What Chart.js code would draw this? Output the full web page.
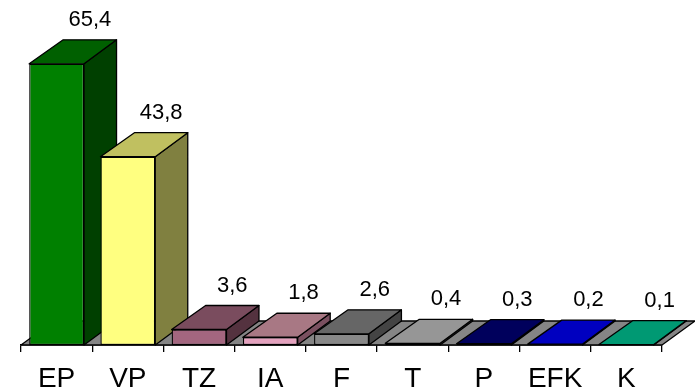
<!DOCTYPE html>
<html>
<head>
<meta charset="utf-8">
<script src="https://cdn.jsdelivr.net/npm/chart.js@4.4.1/dist/chart.umd.min.js"></script>
<style>
  html, body { margin: 0; padding: 0; background: #ffffff; }
  #wrap { width: 695px; height: 388px; position: relative; }
</style>
</head>
<body>
<div id="wrap"><canvas id="c" width="695" height="388"></canvas></div>
<script>
// Parties and their results
const parties = ['EP', 'VP', 'TZ', 'IA', 'F', 'T', 'P', 'EFK', 'K'];
const results = [65.4, 43.8, 3.6, 1.8, 2.6, 0.4, 0.3, 0.2, 0.1];

// Face colours per bar: front, top, side
const frontColors = ['#008000', '#FFFF80', '#A3667F', '#E4A2BE', '#888888', '#999999', '#000066', '#0000C0', '#009973'];
const topColors   = ['#006000', '#C0C060', '#7A4C5E', '#A87884', '#666666', '#969696', '#00005C', '#0000C0', '#009973'];
const sideColors  = ['#004000', '#808040', '#54323F', '#7A5060', '#444444', '#707070', '#000040', '#000090', '#006B50'];

// Oblique depth of the 3D bars and the floor
const DEPTH = { dxLeft: 34, dxRight: 32.5, dy: -24 };

function poly(ctx, pts, fill) {
  ctx.beginPath();
  ctx.moveTo(pts[0][0], pts[0][1]);
  for (let i = 1; i < pts.length; i++) ctx.lineTo(pts[i][0], pts[i][1]);
  ctx.closePath();
  ctx.fillStyle = fill;
  ctx.fill();
  ctx.stroke();
}

const depthPlugin = {
  id: 'depth3d',
  beforeDatasetsDraw(chart) {
    const ctx = chart.ctx;
    const xs = chart.scales.x;
    const ys = chart.scales.y;
    const base = ys.getPixelForValue(0);
    ctx.save();
    ctx.lineJoin = 'round';
    ctx.strokeStyle = '#000000';
    ctx.lineWidth = 1.3;
    // floor
    poly(ctx, [
      [xs.left, base], [xs.right, base],
      [xs.right + 33, base + DEPTH.dy], [xs.left + 33, base + DEPTH.dy]
    ], '#858585');
    // side and top faces of each bar
    const meta = chart.getDatasetMeta(0);
    meta.data.forEach((el, i) => {
      const x0 = el.x - el.width / 2;
      const x1 = el.x + el.width / 2;
      const yt = el.y;
      const yb = el.base;
      poly(ctx, [
        [x1, yt], [x1 + DEPTH.dxRight, yt + DEPTH.dy],
        [x1 + DEPTH.dxRight, yb + DEPTH.dy], [x1, yb]
      ], sideColors[i]);
      poly(ctx, [
        [x0, yt], [x1, yt],
        [x1 + DEPTH.dxRight, yt + DEPTH.dy], [x0 + DEPTH.dxLeft, yt + DEPTH.dy]
      ], topColors[i]);
    });
    ctx.restore();
  },
  afterDatasetsDraw(chart) {
    const ctx = chart.ctx;
    const meta = chart.getDatasetMeta(0);
    ctx.save();
    ctx.fillStyle = '#000000';
    ctx.font = '22px "Liberation Sans", Arial, sans-serif';
    ctx.textAlign = 'center';
    ctx.textBaseline = 'middle';
    meta.data.forEach((el, i) => {
      const text = String(results[i]).replace('.', ',');
      const cx = el.x + (DEPTH.dxLeft + DEPTH.dxRight) / 2;
      const cy = el.y + DEPTH.dy - 20;
      ctx.fillText(text, cx, cy);
    });
    ctx.restore();
  }
};

new Chart(document.getElementById('c'), {
  type: 'bar',
  data: {
    labels: parties,
    datasets: [{
      data: results,
      backgroundColor: frontColors,
      borderColor: '#000000',
      borderWidth: 1.3,
      borderSkipped: false,
      barPercentage: 0.77,
      categoryPercentage: 1.0
    }]
  },
  options: {
    responsive: false,
    animation: false,
    devicePixelRatio: 1,
    layout: { padding: { left: 21, right: 33, top: 44, bottom: 0 } },
    plugins: {
      legend: { display: false },
      tooltip: { enabled: false }
    },
    scales: {
      x: {
        offset: true,
        grid: {
          offset: true,
          drawOnChartArea: false,
          drawTicks: true,
          tickLength: 7,
          color: '#000000',
          lineWidth: 1.3
        },
        border: { display: true, color: '#000000', width: 1.5 },
        ticks: {
          color: '#000000',
          padding: 13,
          font: { family: '"Liberation Sans", Arial, sans-serif', size: 28, lineHeight: 1.0 },
          maxRotation: 0,
          autoSkip: false
        },
        afterFit(scale) { scale.height = 43; }
      },
      y: {
        display: false,
        min: 0,
        max: 70
      }
    }
  },
  plugins: [depthPlugin]
});
</script>
</body>
</html>
